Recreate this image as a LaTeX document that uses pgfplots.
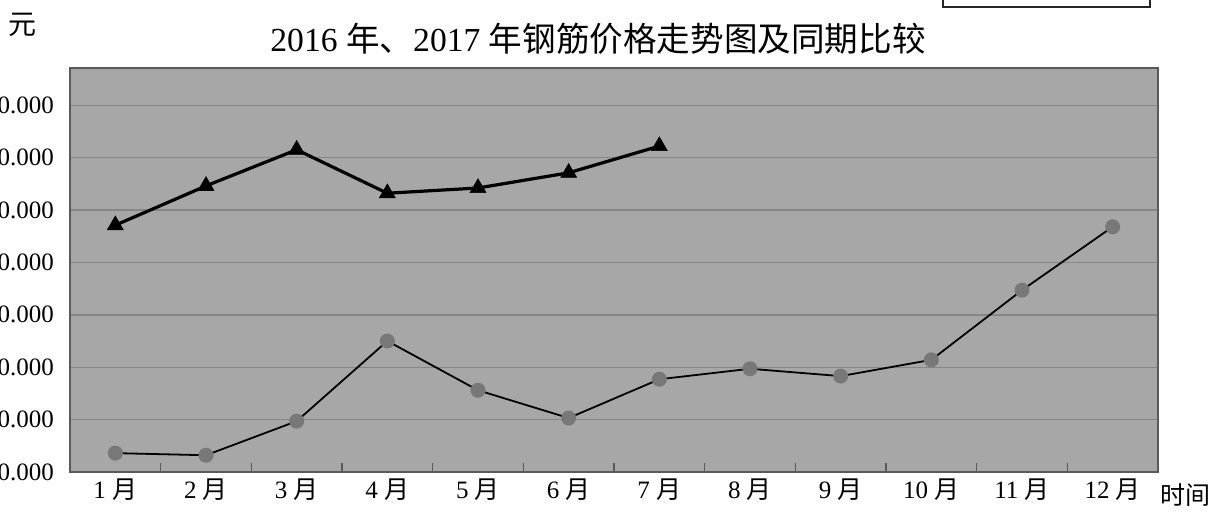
\documentclass[border=0pt]{standalone}
\usepackage{fontspec}
\setmainfont{Liberation Serif}
\newfontfamily\cjk{Noto Sans CJK SC}
\usepackage{pgfplots}
\pgfplotsset{compat=1.18}
\definecolor{plotbg}{HTML}{A7A7A7}
\definecolor{gridc}{HTML}{868686}
\definecolor{framec}{HTML}{5A5A5A}
\definecolor{dotc}{HTML}{787878}
\begin{document}
\begin{tikzpicture}
\begin{axis}[
  name=ax, at={(0,0)}, anchor=south west,
  scale only axis, width=544pt, height=202pt,
  xmin=0.5, xmax=12.5, ymin=0, ymax=7.71,
  axis background/.style={fill=plotbg},
  axis line style={framec, line width=0.8pt},
  tick pos=left, tick align=inside,
  major tick length=0pt, minor tick length=4.5pt,
  minor tick style={framec, line width=0.6pt},
  xtick={1,...,12},
  minor xtick={1.5,2.5,...,11.5},
  xticklabels={{1 {\cjk 月}},{2 {\cjk 月}},{3 {\cjk 月}},{4 {\cjk 月}},{5 {\cjk 月}},{6 {\cjk 月}},{7 {\cjk 月}},{8 {\cjk 月}},{9 {\cjk 月}},{10 {\cjk 月}},{11 {\cjk 月}},{12 {\cjk 月}}},
  ytick={0,1,...,7},
  yticklabels={0.000,0.000,0.000,0.000,0.000,0.000,0.000,0.000},
  ticklabel style={font=\fontsize{12.5}{14}\selectfont},
  yticklabel style={xshift=-4.5pt},
  ymajorgrids, major grid style={gridc, line width=0.7pt},
  clip=false,
]
\addplot[black, line width=0.9pt, mark=*, mark size=3.3pt,
  mark options={fill=dotc, draw=dotc}]
  coordinates {(1,0.36) (2,0.32) (3,0.97) (4,2.50) (5,1.56) (6,1.03) (7,1.77) (8,1.97) (9,1.83) (10,2.14) (11,3.47) (12,4.68)};
\addplot[black, line width=1.6pt, mark=triangle*, mark size=4.6pt,
  mark options={fill=black, draw=black, line width=0.3pt}]
  coordinates {(1,4.71) (2,5.46) (3,6.15) (4,5.32) (5,5.42) (6,5.71) (7,6.22)};
\end{axis}
\node[font=\fontsize{16.8}{19}\selectfont] at ([shift={(264pt,216.5pt)}]ax.south west)
  {2016 {\cjk 年、}2017 {\cjk 年钢筋价格走势图及同期比较}};
\node[font=\cjk\fontsize{14}{16}\selectfont] at ([shift={(-23.5pt,223.5pt)}]ax.south west) {元};
\node[font=\cjk\fontsize{12.5}{14}\selectfont] at ([shift={(557.5pt,-11.5pt)}]ax.south west) {时间};
\draw[black!85, line width=0.8pt, fill=white] ([shift={(436.5pt,232.5pt)}]ax.south west) rectangle ([shift={(540pt,260pt)}]ax.south west);
\pgfresetboundingbox
\path[use as bounding box] ([shift={(-35pt,-20.5pt)}]ax.south west) rectangle ++(612pt,256.5pt);
\end{tikzpicture}
\end{document}
